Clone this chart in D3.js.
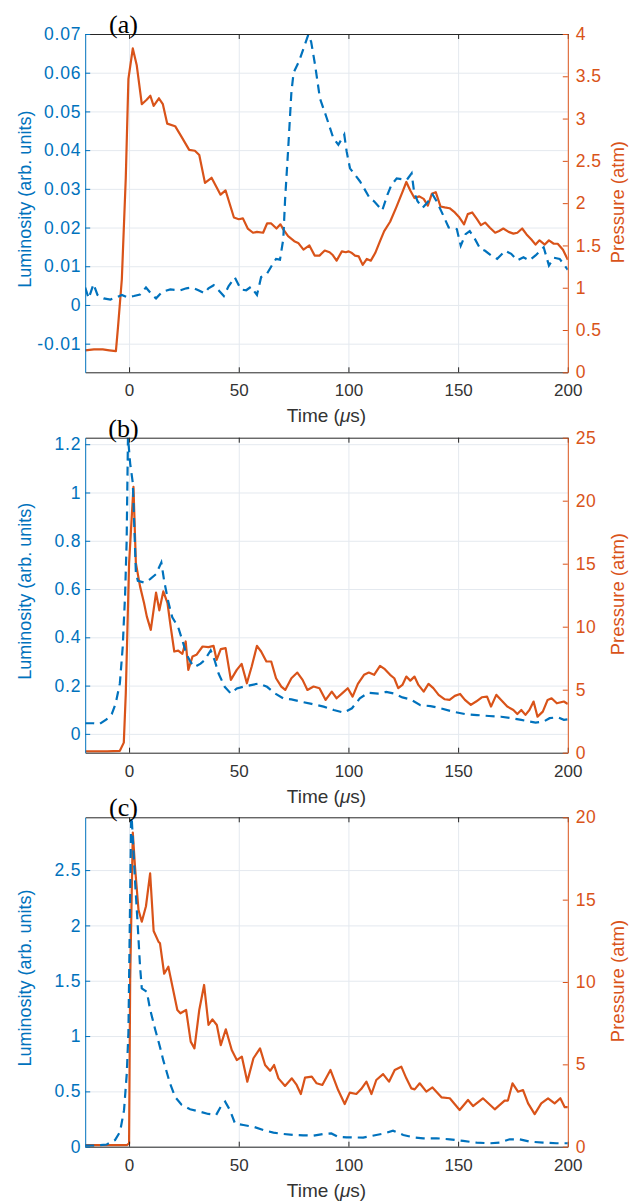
<!DOCTYPE html>
<html>
<head>
<meta charset="utf-8">
<script src="https://cdn.jsdelivr.net/npm/d3@7"></script>
<style>
  body { margin: 0; background: #fff; }
  text { font-family: "Liberation Sans", Arial, sans-serif; }
</style>
</head>
<body>
<div id="chart"></div>
<script>
// ---- panel (a) ----
var aLumT = [-20, -18.4, -16.2, -14.4, -11.6, -8.5, -5.2, -3.3, -0.9, 2.2, 5, 7.7, 10.5, 12.3, 15.1, 18.8, 23.4, 26.1, 28.9, 31.6, 34.4, 36.2, 38.6, 40.8, 43.2, 45.4, 48.2, 51, 53.4, 55.6, 58.3, 60.2, 62.9, 65.1, 67, 68.8, 70.3, 71.1, 72.5, 74, 75, 77.5, 80, 81.7, 83, 84.8, 87, 90.1, 93.1, 95.4, 98.1, 99.2, 100.7, 105.3, 109.8, 111.7, 115.4, 117.8, 119.6, 122, 126.6, 128.8, 130, 131.5, 133.8, 136.2, 138.4, 140.2, 143, 145.7, 149.4, 151.2, 153.4, 155.3, 157.7, 160.1, 162.3, 165, 167.8, 171.5, 174.2, 177, 179.8, 182.5, 185.3, 189, 191.4, 193.6, 196.3, 200];
var aLum = [0.0045, 0.0017, 0.0054, 0.0026, 0.0017, 0.0014, 0.0021, 0.0026, 0.002, 0.0023, 0.0027, 0.0045, 0.0026, 0.0017, 0.0034, 0.004, 0.0038, 0.0043, 0.0045, 0.0038, 0.003, 0.0043, 0.0051, 0.0038, 0.0023, 0.0049, 0.0071, 0.004, 0.0038, 0.0047, 0.0026, 0.0072, 0.0081, 0.0102, 0.0119, 0.0117, 0.017, 0.027, 0.04, 0.055, 0.06, 0.063, 0.067, 0.0698, 0.068, 0.062, 0.0534, 0.0483, 0.0431, 0.0414, 0.044, 0.0396, 0.0353, 0.0319, 0.0275, 0.0268, 0.0244, 0.0285, 0.031, 0.0327, 0.0323, 0.034, 0.029, 0.0268, 0.0251, 0.0266, 0.0285, 0.0268, 0.0234, 0.02, 0.0196, 0.0153, 0.0183, 0.0191, 0.017, 0.0145, 0.014, 0.0128, 0.0119, 0.014, 0.0132, 0.0115, 0.0123, 0.0115, 0.0128, 0.0149, 0.0102, 0.0122, 0.0119, 0.0091];
var aPresT = [-20, -16, -12, -9, -6, -5, -3.3, -1.5, -0.3, 1.7, 3.5, 5.8, 7.9, 9.7, 11.2, 13.6, 15.4, 17.4, 21, 23.8, 27.4, 30, 32, 34.6, 37.6, 41.7, 44, 47.8, 50, 51.9, 54.1, 56.5, 58.3, 61.1, 62.9, 64.8, 67.2, 69, 70.3, 72.5, 75.3, 77.1, 79.5, 82.2, 84.6, 86.8, 89.2, 91.4, 92.7, 94.6, 97, 98.8, 100.1, 101.6, 103, 104.7, 106.5, 108.4, 110.2, 112.2, 114.4, 116.3, 119, 121.8, 124.6, 126.4, 128.2, 130.1, 132.3, 134.3, 136.2, 138, 139.8, 142, 143.9, 146.1, 148.5, 150.3, 152.7, 154.4, 156.4, 158.6, 160.4, 162.3, 164.5, 166.9, 168.7, 170.6, 173, 175.2, 177, 179.2, 181.2, 183.4, 185.3, 187.1, 189.5, 191.4, 193.6, 195.4, 197.8, 200];
var aPres = [0.26, 0.27, 0.27, 0.26, 0.25, 0.55, 1.1, 2.3, 3.47, 3.83, 3.63, 3.17, 3.22, 3.27, 3.15, 3.24, 3.17, 2.94, 2.91, 2.79, 2.63, 2.62, 2.57, 2.24, 2.3, 2.1, 2.15, 1.83, 1.81, 1.82, 1.7, 1.65, 1.66, 1.65, 1.76, 1.76, 1.7, 1.75, 1.69, 1.61, 1.55, 1.53, 1.45, 1.5, 1.38, 1.38, 1.44, 1.42, 1.39, 1.32, 1.43, 1.42, 1.43, 1.41, 1.38, 1.37, 1.27, 1.34, 1.32, 1.41, 1.55, 1.67, 1.78, 1.95, 2.13, 2.25, 2.15, 2.06, 2.08, 2.05, 1.97, 2.11, 2.13, 1.96, 1.95, 1.94, 1.89, 1.84, 1.75, 1.87, 1.89, 1.81, 1.74, 1.77, 1.71, 1.65, 1.67, 1.7, 1.66, 1.64, 1.65, 1.7, 1.63, 1.57, 1.51, 1.56, 1.51, 1.56, 1.52, 1.52, 1.45, 1.33];

// ---- panel (b) ----
var bLumT = [-20, -16.2, -13.4, -10.3, -7.9, -6.1, -4.2, -2.9, -1.8, -1.1, -0.5, 0.5, 1.7, 3.1, 4, 6.8, 9.6, 12.3, 14.7, 16, 17.8, 19.7, 22.4, 24.3, 26.1, 28, 29.8, 32.6, 34.4, 37.2, 39, 40.8, 43.6, 46.4, 49.1, 51.9, 55.6, 59.2, 62.9, 66.6, 70.3, 74, 78.6, 83.2, 88.7, 93.3, 97.9, 101.6, 105.2, 108.9, 113.5, 117.2, 120.9, 124.6, 128.2, 132.8, 137.4, 142, 147.6, 153.1, 158.6, 164.1, 169.6, 174.2, 178.8, 182.5, 185.3, 189, 191.7, 195.4, 198.2, 200];
var bLum = [0.044, 0.044, 0.041, 0.06, 0.082, 0.126, 0.209, 0.36, 0.58, 0.8, 1.23, 1.12, 1.04, 0.668, 0.634, 0.627, 0.641, 0.662, 0.71, 0.634, 0.55, 0.483, 0.442, 0.387, 0.332, 0.298, 0.277, 0.291, 0.305, 0.346, 0.305, 0.25, 0.195, 0.167, 0.188, 0.195, 0.202, 0.209, 0.195, 0.167, 0.147, 0.143, 0.133, 0.124, 0.113, 0.099, 0.088, 0.106, 0.147, 0.17, 0.167, 0.174, 0.167, 0.151, 0.143, 0.119, 0.115, 0.106, 0.092, 0.082, 0.078, 0.074, 0.071, 0.065, 0.058, 0.051, 0.047, 0.051, 0.065, 0.069, 0.058, 0.06];
var bPresT = [-20, -10, -4.2, -2.4, -1.5, 0, 2, 3.1, 5, 6.8, 8.1, 9.9, 12.3, 13.8, 15.6, 17.5, 18.8, 20.6, 22.4, 24.3, 25.8, 27, 28.9, 30.7, 33.5, 36.2, 38.5, 39.9, 41.8, 44, 46.4, 49.1, 51.3, 53.7, 55.9, 58.3, 60.2, 62.6, 64.8, 67, 69.4, 71.2, 74, 76.7, 79.1, 81.3, 84.1, 86.8, 89.6, 92.4, 94.6, 97.5, 99.7, 101.9, 104.3, 107.1, 109.3, 111.7, 114.4, 116.6, 119, 120.9, 122.7, 124.6, 126.4, 128.2, 130.1, 131.9, 134.3, 136.5, 138.7, 141.1, 143.9, 146.1, 148.5, 150.9, 153.1, 155.8, 158.2, 160.8, 163.2, 165, 167.4, 169.6, 172.4, 175.2, 177, 178.8, 180.7, 182.5, 184.4, 186.2, 188.6, 190.8, 192.6, 195, 198.2, 200];
var bPres = [0.1, 0.1, 0.15, 0.8, 4.7, 15, 21.1, 15.05, 13.2, 11.9, 10.8, 9.75, 12.7, 11.3, 12.8, 11.9, 10.2, 8.03, 8.1, 7.85, 8.83, 6.57, 7.63, 7.77, 8.43, 8.38, 8.48, 7.37, 8.22, 8.3, 5.78, 6.57, 7.05, 5.51, 6.84, 8.48, 8.03, 7.24, 7.24, 5.91, 5.25, 4.98, 5.91, 6.36, 5.78, 4.98, 5.25, 5.12, 4.19, 4.85, 4.32, 4.77, 5.12, 4.45, 5.46, 6.18, 6.36, 6.18, 6.89, 6.63, 6.18, 5.91, 5.12, 5.38, 6.04, 5.72, 6.04, 5.38, 4.85, 5.46, 5.12, 4.59, 4.24, 4.19, 4.51, 4.66, 4.19, 3.79, 4.06, 4.4, 4.45, 3.66, 4.59, 4.19, 3.66, 3.39, 3.07, 3.39, 3.0, 3.39, 4.06, 2.86, 3.26, 4.19, 4.32, 3.92, 4.06, 3.87];

// ---- panel (c) ----
var cLumT = [-20, -14.7, -10.2, -6.4, -4.1, -2.3, -1.05, -0.3, 1, 2.7, 3.8, 5, 5.8, 8.1, 9.6, 11.9, 14.1, 15.6, 18.7, 21, 24, 27.8, 32.4, 36.1, 39.7, 41.8, 43.8, 46, 48.3, 52.1, 56.7, 61.2, 65.8, 70.3, 74.9, 79.4, 84, 88.4, 92.2, 95.3, 99.1, 106.7, 112.7, 116.5, 120.3, 125, 129.5, 134.1, 140.2, 146.2, 152.3, 158.4, 164.5, 169, 173.5, 178.1, 182.6, 188.7, 194.8, 200];
var cLum = [0.01, 0.01, 0.02, 0.06, 0.136, 0.33, 0.66, 1.03, 3.05, 2.41, 2.05, 1.63, 1.43, 1.4, 1.24, 1.06, 0.9, 0.78, 0.57, 0.45, 0.377, 0.338, 0.316, 0.296, 0.287, 0.362, 0.407, 0.33, 0.21, 0.196, 0.18, 0.151, 0.127, 0.115, 0.106, 0.103, 0.1, 0.115, 0.12, 0.09, 0.085, 0.082, 0.106, 0.12, 0.145, 0.106, 0.085, 0.076, 0.076, 0.067, 0.052, 0.037, 0.031, 0.037, 0.067, 0.067, 0.046, 0.037, 0.031, 0.031];
var cPresT = [-20, -1, 0, 0.5, 1.7, 2.7, 4.3, 5.8, 7.7, 9.6, 11.2, 13.4, 14.1, 16, 17.9, 22, 23.4, 26, 28.1, 29.8, 32, 34.2, 36.2, 38, 40, 41.8, 44.1, 46.8, 49.1, 51.4, 53.9, 56.7, 59.7, 62, 64.3, 66.1, 68.1, 71.1, 74.2, 76.4, 78.3, 80.2, 83.3, 85.5, 88.1, 91.8, 95.3, 98.3, 100.6, 103.6, 105.8, 108.2, 110.5, 112.7, 115.8, 118.5, 121.1, 124.1, 126.4, 128.7, 130.2, 132.5, 135.5, 138.3, 142.4, 146.2, 150.7, 154.5, 156.8, 161.3, 166.7, 171.2, 172.7, 174.8, 177.3, 179.6, 181.9, 184.9, 187.9, 191, 194, 196.6, 198.6, 200];
var cPres = [0.1, 0.1, 0.2, 10.1, 19.07, 17.0, 14.37, 13.66, 14.6, 16.6, 13.1, 12.45, 12.35, 10.5, 10.93, 8.3, 8.1, 8.3, 6.38, 5.97, 8.3, 9.82, 7.39, 7.73, 7.39, 6.17, 7.13, 5.87, 5.26, 5.47, 3.95, 5.37, 5.97, 4.96, 4.61, 4.96, 4.15, 3.69, 4.15, 3.75, 3.2, 4.19, 4.25, 3.85, 3.75, 4.66, 3.44, 2.59, 3.28, 3.2, 3.5, 3.95, 3.2, 4.05, 4.41, 3.95, 4.66, 4.86, 4.15, 3.54, 3.48, 3.85, 3.34, 3.6, 3.0, 2.94, 2.23, 2.84, 2.47, 2.94, 2.27, 2.8, 2.8, 3.85, 3.34, 3.44, 2.63, 1.98, 2.63, 2.94, 2.63, 2.94, 2.4, 2.4];

// ---- axis ticks ----
var timeTicks = [0, 50, 100, 150, 200];
var aLumTicks = [-0.01, 0, 0.01, 0.02, 0.03, 0.04, 0.05, 0.06, 0.07];
var aPresTicks = [0, 0.5, 1, 1.5, 2, 2.5, 3, 3.5, 4];
var bLumTicks = [0, 0.2, 0.4, 0.6, 0.8, 1, 1.2];
var bPresTicks = [0, 5, 10, 15, 20, 25];
var cLumTicks = [0, 0.5, 1, 1.5, 2, 2.5];
var cPresTicks = [0, 5, 10, 15, 20];

var svgWidth = 633;
var svgHeight = 1201;
var left = 85.2, right = 567.8;
var blue = "#0072BD", orange = "#D95319", dark = "#262626", gridColor = "#e4e9ef";

var svg = d3.select("#chart")
  .append("svg")
  .attr("width", svgWidth)
  .attr("height", svgHeight);

svg.append("rect").attr("width", svgWidth).attr("height", svgHeight).attr("fill", "#fff");

var x = d3.scaleLinear().domain([-20, 200]).range([left, right]);

var panels = [
  { label: "(a)", top: 34, bottom: 372.3, lumDomain: [-0.0174, 0.07], presDomain: [0, 4],
    lumTicks: aLumTicks, presTicks: aPresTicks, lumT: aLumT, lum: aLum, presT: aPresT, pres: aPres },
  { label: "(b)", top: 437.7, bottom: 752.7, lumDomain: [-0.078, 1.227], presDomain: [0, 25],
    lumTicks: bLumTicks, presTicks: bPresTicks, lumT: bLumT, lum: bLum, presT: bPresT, pres: bPres },
  { label: "(c)", top: 817.3, bottom: 1146.7, lumDomain: [0, 2.977], presDomain: [0, 20],
    lumTicks: cLumTicks, presTicks: cPresTicks, lumT: cLumT, lum: cLum, presT: cPresT, pres: cPres }
];

var fmt = function (d) { return d === 0 ? "0" : String(+d.toFixed(2)); };

panels.forEach(function (p, i) {
  var h = p.bottom - p.top;
  var yL = d3.scaleLinear().domain(p.lumDomain).range([p.bottom, p.top]);
  var yR = d3.scaleLinear().domain(p.presDomain).range([p.bottom, p.top]);
  var g = svg.append("g");

  g.append("clipPath").attr("id", "clip" + i)
    .append("rect")
    .attr("x", left).attr("y", p.top)
    .attr("width", right - left).attr("height", h);

  // grid
  var gx = g.append("g")
    .attr("transform", `translate(0, ${p.bottom})`)
    .call(d3.axisBottom(x).tickValues(timeTicks.slice(0, 4)).tickSize(-h).tickFormat(""));
  gx.select(".domain").remove();
  gx.selectAll("line").attr("stroke", gridColor).attr("stroke-width", 1);

  var gy = g.append("g")
    .attr("transform", `translate(${left}, 0)`)
    .call(d3.axisLeft(yL).tickValues(p.lumTicks).tickSize(-(right - left)).tickFormat(""));
  gy.select(".domain").remove();
  gy.selectAll("line").attr("stroke", gridColor).attr("stroke-width", 1);

  // data lines
  var lumLine = d3.line().x((d, k) => x(p.lumT[k])).y(d => yL(d));
  var presLine = d3.line().x((d, k) => x(p.presT[k])).y(d => yR(d));

  var plot = g.append("g").attr("clip-path", `url(#clip${i})`);
  plot.append("path")
    .attr("d", presLine(p.pres))
    .attr("fill", "none")
    .attr("stroke", orange)
    .attr("stroke-width", 2.2)
    .attr("stroke-linejoin", "round");
  plot.append("path")
    .attr("d", lumLine(p.lum))
    .attr("fill", "none")
    .attr("stroke", blue)
    .attr("stroke-width", 2.2)
    .attr("stroke-dasharray", "9,6");

  // axes
  var bottomAxis = g.append("g")
    .attr("transform", `translate(0, ${p.bottom})`)
    .call(d3.axisBottom(x).tickValues(timeTicks).tickSize(-5).tickSizeOuter(0).tickPadding(12));
  bottomAxis.selectAll("path, line").attr("stroke", dark);
  bottomAxis.selectAll("text").attr("fill", "#333").style("font-size", "17px");

  var topAxis = g.append("g")
    .attr("transform", `translate(0, ${p.top})`)
    .call(d3.axisTop(x).tickValues(timeTicks).tickSize(-5).tickSizeOuter(0).tickFormat(""));
  topAxis.selectAll("path, line").attr("stroke", dark);

  var leftAxis = g.append("g")
    .attr("transform", `translate(${left}, 0)`)
    .call(d3.axisLeft(yL).tickValues(p.lumTicks).tickSize(-5).tickSizeOuter(0).tickPadding(4).tickFormat(fmt));
  leftAxis.selectAll("path, line").attr("stroke", blue);
  leftAxis.selectAll("text").attr("fill", blue)
    .style("font-size", "17.5px").style("letter-spacing", "0.8px");

  var rightAxis = g.append("g")
    .attr("transform", `translate(${right}, 0)`)
    .call(d3.axisRight(yR).tickValues(p.presTicks).tickSize(-5).tickSizeOuter(0).tickPadding(8).tickFormat(fmt));
  rightAxis.selectAll("path, line").attr("stroke", orange);
  rightAxis.selectAll("text").attr("fill", orange)
    .style("font-size", "17.5px").style("letter-spacing", "0.4px");

  // axis titles
  var xLabel = g.append("text")
    .attr("x", (left + right) / 2)
    .attr("y", p.bottom + 50)
    .attr("text-anchor", "middle")
    .attr("fill", "#333")
    .style("font-size", "19px");
  xLabel.append("tspan").text("Time (");
  xLabel.append("tspan").style("font-style", "italic").text("μ");
  xLabel.append("tspan").text("s)");

  g.append("text")
    .attr("transform", `translate(25, ${p.top + h / 2 - 4}) rotate(-90)`)
    .attr("dy", "0.35em")
    .attr("text-anchor", "middle")
    .attr("fill", blue)
    .style("font-size", "18px")
    .text("Luminosity (arb. units)");

  g.append("text")
    .attr("transform", `translate(617.5, ${p.top + h / 2 - 1}) rotate(-90)`)
    .attr("dy", "0.35em")
    .attr("text-anchor", "middle")
    .attr("fill", orange)
    .style("font-size", "18.5px")
    .text("Pressure (atm)");

  // panel label
  g.append("text")
    .attr("x", 123.5)
    .attr("y", p.top - 1)
    .attr("text-anchor", "middle")
    .attr("fill", "#000")
    .style("font-family", "'Liberation Serif', 'Times New Roman', serif")
    .style("font-size", "26px")
    .text(p.label);
});
</script>
</body>
</html>
